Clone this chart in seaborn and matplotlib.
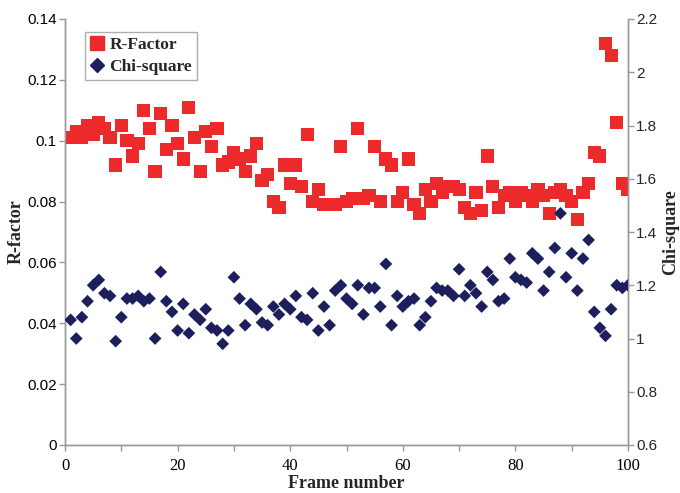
import matplotlib
matplotlib.use("Agg")
import matplotlib.pyplot as plt
import seaborn as sns
import pandas as pd
import numpy as np
from matplotlib.lines import Line2D

frames = list(range(1, 101))
r_factor = [0.101, 0.103, 0.101, 0.105, 0.102, 0.106, 0.104, 0.101, 0.092, 0.105,
            0.100, 0.095, 0.099, 0.110, 0.104, 0.090, 0.109, 0.097, 0.105, 0.099,
            0.094, 0.111, 0.101, 0.090, 0.103, 0.098, 0.104, 0.092, 0.093, 0.096,
            0.094, 0.090, 0.095, 0.099, 0.087, 0.089, 0.080, 0.078, 0.092, 0.086,
            0.092, 0.085, 0.102, 0.080, 0.084, 0.079, 0.079, 0.079, 0.098, 0.080,
            0.081, 0.104, 0.081, 0.082, 0.098, 0.080, 0.094, 0.092, 0.080, 0.083,
            0.094, 0.079, 0.076, 0.084, 0.080, 0.086, 0.083, 0.085, 0.085, 0.084,
            0.078, 0.076, 0.083, 0.077, 0.095, 0.085, 0.078, 0.082, 0.083, 0.080,
            0.083, 0.082, 0.080, 0.084, 0.082, 0.076, 0.083, 0.084, 0.082, 0.080,
            0.074, 0.083, 0.086, 0.096, 0.095, 0.132, 0.128, 0.106, 0.086, 0.084]
chi_square = [1.07, 1.00, 1.08, 1.14, 1.20, 1.22, 1.17, 1.16, 0.99, 1.08,
              1.15, 1.15, 1.16, 1.14, 1.15, 1.00, 1.25, 1.14, 1.10, 1.03,
              1.13, 1.02, 1.09, 1.07, 1.11, 1.04, 1.03, 0.98, 1.03, 1.23,
              1.15, 1.05, 1.13, 1.11, 1.06, 1.05, 1.12, 1.09, 1.13, 1.11,
              1.16, 1.08, 1.07, 1.17, 1.03, 1.12, 1.05, 1.18, 1.20, 1.15,
              1.13, 1.20, 1.09, 1.19, 1.19, 1.12, 1.28, 1.05, 1.16, 1.12,
              1.14, 1.15, 1.05, 1.08, 1.14, 1.19, 1.18, 1.18, 1.16, 1.26,
              1.16, 1.20, 1.17, 1.12, 1.25, 1.22, 1.14, 1.15, 1.30, 1.23,
              1.22, 1.21, 1.32, 1.30, 1.18, 1.25, 1.34, 1.47, 1.23, 1.32,
              1.18, 1.30, 1.37, 1.10, 1.04, 1.01, 1.11, 1.20, 1.19, 1.20]

x_ticks = [0, 20, 40, 60, 80, 100]
left_ticks = [0, 0.02, 0.04, 0.06, 0.08, 0.1, 0.12, 0.14]
left_labels = ["0", "0.02", "0.04", "0.06", "0.08", "0.1", "0.12", "0.14"]
right_ticks = [0.6, 0.8, 1.0, 1.2, 1.4, 1.6, 1.8, 2.0, 2.2]
right_labels = ["0.6", "0.8", "1", "1.2", "1.4", "1.6", "1.8", "2", "2.2"]

df = pd.DataFrame({"frame": frames, "r": r_factor, "chi": chi_square})

sns.set_style("white")
red = "#EC2A2C"
navy = "#1C1F5C"
grey = "#999999"

fig = plt.figure(figsize=(6.8, 4.93), dpi=100)
ax = fig.add_axes([65/680, 1-445/493, (628-65)/680, (445-19)/493])
ax2 = ax.twinx()

sns.scatterplot(data=df, x="frame", y="r", ax=ax, marker="s", s=90,
                color=red, edgecolor="none", linewidth=0, zorder=3)
sns.scatterplot(data=df, x="frame", y="chi", ax=ax2, marker="D", s=42,
                color=navy, edgecolor="none", linewidth=0, zorder=3)

ax.set_xlim(0, 100)
ax.set_ylim(0, 0.14)
ax2.set_ylim(0.6, 2.2)
ax.set_xticks(list(range(0, 101, 10)))
ax.set_xticklabels([str(v) if v in x_ticks else "" for v in range(0, 101, 10)],
                   family="Liberation Serif", fontsize=12)
ax.set_yticks(left_ticks)
ax.set_yticklabels(left_labels, family="Liberation Sans", fontsize=11)
ax2.set_yticks(right_ticks)
ax2.set_yticklabels(right_labels, family="Liberation Sans", fontsize=11)

for a in (ax, ax2):
    a.spines["top"].set_visible(False)
    for side in ("left", "right", "bottom"):
        a.spines[side].set_color(grey)
        a.spines[side].set_linewidth(1.0)
ax.tick_params(axis="both", direction="out", length=4, color=grey, width=1,
               left=True, bottom=True, labelcolor="black")
ax.tick_params(axis="x", pad=5)
ax.tick_params(axis="y", pad=2)
ax2.tick_params(axis="y", direction="out", length=4, color=grey, width=1, right=True,
                pad=2)

lab_font = dict(family="Liberation Serif", fontweight="bold", fontsize=13)
ax.set_xlabel("Frame number", labelpad=1, **lab_font)
ax.set_ylabel("R-factor", labelpad=2, **lab_font)
ax2.set_ylabel("Chi-square", labelpad=3, **lab_font)

handles = [Line2D([], [], marker="s", color=red, linestyle="none", markersize=10),
           Line2D([], [], marker="D", color=navy, linestyle="none", markersize=7)]
leg = ax.legend(handles, ["R-Factor", "Chi-square"], loc="upper left",
                bbox_to_anchor=(0.02, 0.99), frameon=True, fancybox=False,
                prop=dict(family="Liberation Serif", weight="bold", size=12.5),
                handlelength=0.8, handletextpad=0.3, borderpad=0.3, labelspacing=0.3)
leg.get_frame().set_edgecolor(grey)
leg.get_frame().set_linewidth(1.0)

fig.savefig("out.png", dpi=100)
